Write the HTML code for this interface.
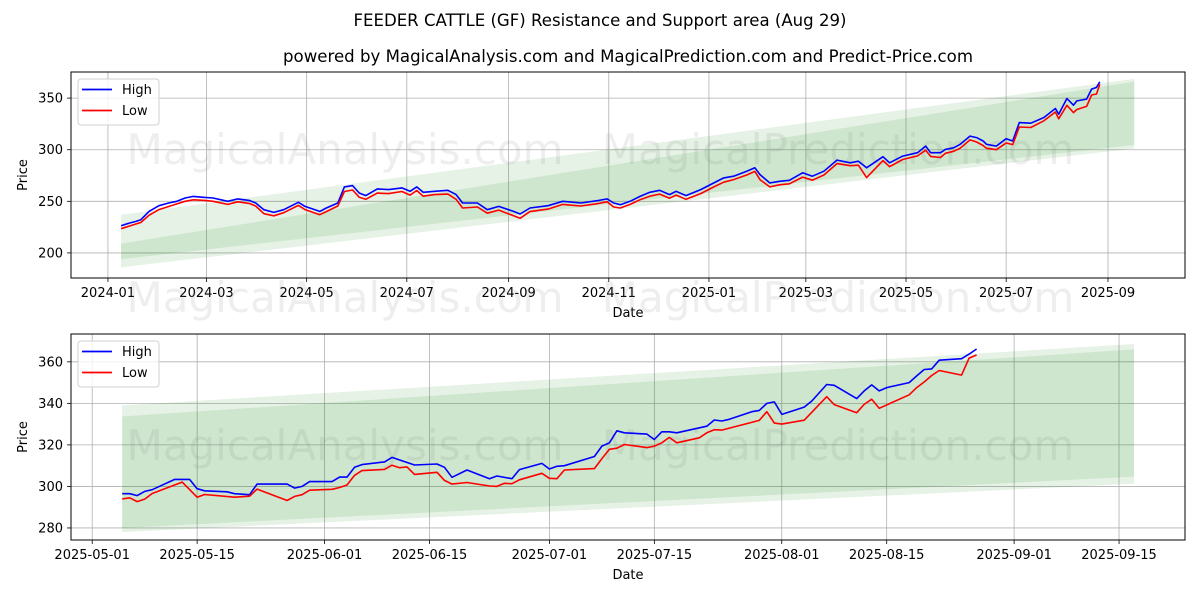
<!DOCTYPE html>
<html><head><meta charset="utf-8"><style>
html,body{margin:0;padding:0;background:#fff;}
svg{display:block;font-family:"DejaVu Sans","Liberation Sans",sans-serif;}
</style></head><body>
<svg id="fig" width="1200" height="600" viewBox="0 0 1200 600" xmlns="http://www.w3.org/2000/svg">
<rect width="1200" height="600" fill="#fff"/>
<text x="600" y="26" text-anchor="middle" font-size="16.5" textLength="493" lengthAdjust="spacingAndGlyphs">FEEDER CATTLE (GF) Resistance and Support area (Aug 29)</text>
<text x="628" y="62" text-anchor="middle" font-size="16.5" textLength="690" lengthAdjust="spacingAndGlyphs">powered by MagicalAnalysis.com and MagicalPrediction.com and Predict-Price.com</text>
<g id="top"></g>
<g id="bot"></g>
</svg>
<script>
// ---- top chart data (days since 2024-01-01) ----
const topHighDays=[8,13,17,20,25,31,37,42,47,52,58,64,73,79,86,90,95,101,107,116,120,129,133,140,144,149,153,157,164,171,179,184,188,192,199,207,212,216,225,231,238,247,251,257,268,277,288,299,304,308,312,318,324,330,336,342,346,352,361,369,375,381,389,394,397,403,409,415,423,429,436,444,452,457,462,472,476,484,493,498,501,507,510,515,519,525,529,533,535,541,547,551,555,562,570,577,579,584,588,590,596,599,602,604];
const topHigh=[226.3,228.9,230.5,232.1,240.2,245.8,248.4,250,253.2,254.8,253.9,253.2,250,252.3,250.9,248.4,241.9,239.3,241.9,249,245.1,240.2,243.5,248.4,264,265.2,258.1,255.5,262,261.4,263,259.7,264,258.7,259.7,260.7,256.5,248.4,248.4,241.9,245.1,240.2,237.7,243.5,245.8,250,248.4,250.9,252.3,248.4,246.7,250,254.8,258.7,260.7,256.5,259.7,255.5,261.4,267.8,272.7,274.3,279.2,282.5,276,267.8,269.4,270.4,277.6,274.3,279.2,289.9,287.3,288.9,282.5,293.2,287.3,293.8,297.1,303.5,297.1,297.1,300.3,301.9,305.2,313.2,311.7,308.4,305.2,303.5,310.7,308.4,326.3,325.7,331.2,339.9,334.4,349.6,343.1,347.3,349,358.7,360.4,365.8];
const topLow=[223.5,226,228,229.5,236.5,242,245,247.5,250,251.5,251,250,247,249.5,248,245.5,238,236,239,246,242,237,240,245.5,259.5,261,254,252,258,257.5,259.5,256,260.5,255,256.5,257,252,243.5,244.5,238.5,241.5,236,233.5,240,242.5,247,245.5,248,249.5,244.5,243.5,247,251.5,255,257,253,256,252,257.5,264,268.5,271,275.5,279,271,264,266,267,273.5,270.5,275.5,286.5,284.5,285,273,289.5,283.5,290.5,294,299.5,293.5,292.5,296.5,298.5,301.5,309.5,307.5,304,301.5,300,306.5,305,322,321.5,328,336.5,330,343,336,339,342,353,354,363.5];
const topBandDays=[8,625];
const topOuterUpper=[237,368.6];
const topOuterLower=[186,301.3];
const topInnerUpper=[209,366];
const topInnerLower=[194,304.7];
const topXTicks=[0,60,121,182,244,305,366,425,486,547,609];
const topXLabels=["2024-01","2024-03","2024-05","2024-07","2024-09","2024-11","2025-01","2025-03","2025-05","2025-07","2025-09"];
const topYTicks=[200,250,300,350];

// ---- bottom chart data (days since 2025-05-01) ----
const botHighDays=[4,5,6,7,8,11,13,14,15,18,19,21,22,26,27,28,29,32,33,34,35,36,39,40,43,46,47,48,50,53,54,56,57,60,61,62,63,67,68,69,70,71,74,75,76,77,78,82,83,84,85,88,89,90,91,92,95,96,98,99,102,103,104,105,106,109,110,111,112,113,116,117,118];
const botHigh=[296.5,296.5,295.6,297.6,298.4,303.4,303.4,298.9,297.9,297.4,296.5,296.0,301.1,301.1,299.2,300.0,302.3,302.3,304.5,304.5,309.2,310.5,311.8,314.0,310.3,310.8,309.2,304.4,307.9,303.7,305.0,303.7,308.1,311.1,308.4,309.7,310.0,314.4,319.4,321.0,326.8,325.8,325.2,322.6,326.3,326.3,325.8,329.0,332.0,331.5,332.3,336.0,336.6,340.0,340.7,334.7,338.2,341.1,349.1,348.7,342.3,346.0,348.9,346.0,347.6,350.0,353.2,356.3,356.6,360.8,361.5,363.7,366.2];
const botLowDays=[4,5,6,7,8,12,14,15,19,21,22,26,27,28,29,32,33,34,35,36,39,40,41,42,43,46,47,48,50,53,54,55,56,57,60,61,62,63,67,68,69,70,71,74,75,76,77,78,81,82,83,84,89,90,91,92,95,98,99,102,103,104,105,109,110,111,112,113,116,117,118];
const botLow=[294.0,294.5,292.7,293.9,296.6,302.1,294.8,296.1,294.8,295.3,298.7,293.2,295.2,296.0,298.2,298.6,299.5,300.7,305.3,307.6,308.2,310.2,309.0,309.4,305.8,306.8,302.9,301.1,301.9,300.2,300.0,301.5,301.3,303.2,306.3,303.9,303.7,307.9,308.6,313.4,317.9,318.4,320.2,318.7,319.4,321.0,323.6,321.0,323.4,325.8,327.3,327.1,331.8,336.0,330.5,330.0,331.9,343.2,339.4,335.5,339.5,342.0,337.6,344.1,347.6,350.3,353.4,355.8,353.6,361.8,363.3];
const botBandDays=[4,139];
const botOuterUpper=[339,368.6];
const botOuterLower=[278,301.3];
const botInnerUpper=[333.7,366];
const botInnerLower=[280,304.7];
const botXTicks=[0,14,31,45,61,75,92,106,123,137];
const botXLabels=["2025-05-01","2025-05-15","2025-06-01","2025-06-15","2025-07-01","2025-07-15","2025-08-01","2025-08-15","2025-09-01","2025-09-15"];
const botYTicks=[280,300,320,340,360];

const NS="http://www.w3.org/2000/svg";
function mk(parent,tag,attrs){const e=document.createElementNS(NS,tag);for(const k in attrs)e.setAttribute(k,attrs[k]);parent.appendChild(e);return e;}

function drawChart(g,cfg){
  const L=71,R=1185,T=cfg.top,B=cfg.top+206;
  const sx=d=>L+(d-cfg.x0)/(cfg.x1-cfg.x0)*(R-L);
  const sy=v=>B-(v-cfg.y0)/(cfg.y1-cfg.y0)*(B-T);
  cfg.xticks.forEach((d,i)=>{
    const ln=mk(g,'line',{x1:sx(d),x2:sx(d),y1:T,y2:B,stroke:'#b0b0b0','stroke-width':0.8});
    
    
    const tk=mk(g,'line',{x1:sx(d),x2:sx(d),y1:B,y2:B+4,stroke:'#000','stroke-width':0.8});
    
    
    const t=mk(g,'text',{x:sx(d),y:B+19,'text-anchor':'middle','font-size':13});
    t.textContent=cfg.xlabels[i];
    
    
  });
  cfg.yticks.forEach(v=>{
    const ln=mk(g,'line',{x1:L,x2:R,y1:sy(v),y2:sy(v),stroke:'#b0b0b0','stroke-width':0.8});
    
    
    const tk=mk(g,'line',{x1:L-4,x2:L,y1:sy(v),y2:sy(v),stroke:'#000','stroke-width':0.8});
    
    
    const t=mk(g,'text',{x:L-8,y:sy(v)+4.5,'text-anchor':'end','font-size':13});
    t.textContent=v;
    
    
  });
  function band(days,up,lo,name){
    const pts=[[sx(days[0]),sy(up[0])],[sx(days[1]),sy(up[1])],[sx(days[1]),sy(lo[1])],[sx(days[0]),sy(lo[0])]];
    const p=mk(g,'polygon',{points:pts.map(q=>q.join(',')).join(' '),fill:'rgba(0,128,0,0.1)'});
    
    
  }
  band(cfg.bandDays,cfg.ou,cfg.ol,'outer-band');
  band(cfg.bandDays,cfg.iu,cfg.il,'inner-band');
  [[345,'MagicalAnalysis.com'],[838,'MagicalPrediction.com']].forEach(w=>{
    const t=mk(g,'text',{x:w[0],y:cfg.wmY,'text-anchor':'middle','font-size':42,fill:'rgba(120,120,120,0.13)'});
    t.textContent=w[1];
    
    
  });
  function line(days,vals,color,name){
    const d=days.map((x,i)=>(i?'L':'M')+sx(x).toFixed(1)+','+sy(vals[i]).toFixed(1)).join(' ');
    const p=mk(g,'path',{d:d,fill:'none',stroke:color,'stroke-width':1.6,'stroke-linejoin':'round'});
    
    
  }
  line(cfg.hd,cfg.h,'#0000ff','high-line');
  line(cfg.ld,cfg.l,'#ff0000','low-line');
  const fr=mk(g,'rect',{x:L,y:T,width:R-L,height:B-T,fill:'none',stroke:'#000','stroke-width':1});
  
  
  const xt=mk(g,'text',{x:(L+R)/2,y:B+39,'text-anchor':'middle','font-size':13});
  xt.textContent='Date';
  
  
  const yt=mk(g,'text',{x:0,y:0,'text-anchor':'middle','font-size':13,transform:`translate(27,${(T+B)/2}) rotate(-90)`});
  yt.textContent='Price';
  
  
  const lg=mk(g,'g',{});
  
  
  mk(lg,'rect',{x:78,y:T+7,width:81,height:46,rx:3,fill:'rgba(255,255,255,0.8)',stroke:'#d0d0d0'});
  [['High','#0000ff',T+22],['Low','#ff0000',T+43]].forEach(e=>{
    const it=mk(lg,'g',{});
    
    
    mk(it,'line',{x1:82,x2:112,y1:e[2]-4.5,y2:e[2]-4.5,stroke:e[1],'stroke-width':1.8});
    const t=mk(it,'text',{x:122,y:e[2],'font-size':13});
    t.textContent=e[0];
  });
}
drawChart(document.getElementById('top'),{top:72,x0:-22.5,x1:655.9,y0:175.7,y1:375.3,xticks:topXTicks,xlabels:topXLabels,yticks:topYTicks,bandDays:topBandDays,ou:topOuterUpper,ol:topOuterLower,iu:topInnerUpper,il:topInnerLower,hd:topHighDays,h:topHigh,ld:topHighDays,l:topLow,wmY:164});
drawChart(document.getElementById('bot'),{top:334,x0:-2.83,x1:145.8,y0:274.2,y1:373.4,xticks:botXTicks,xlabels:botXLabels,yticks:botYTicks,bandDays:botBandDays,ou:botOuterUpper,ol:botOuterLower,iu:botInnerUpper,il:botInnerLower,hd:botHighDays,h:botHigh,ld:botLowDays,l:botLow,wmY:460});
[[345,'MagicalAnalysis.com'],[838,'MagicalPrediction.com']].forEach(w=>{
  const t=mk(document.getElementById('fig'),'text',{x:w[0],y:312,'text-anchor':'middle','font-size':42,fill:'rgba(120,120,120,0.13)'});
  t.textContent=w[1];
  
  
});
</script>
</body></html>
